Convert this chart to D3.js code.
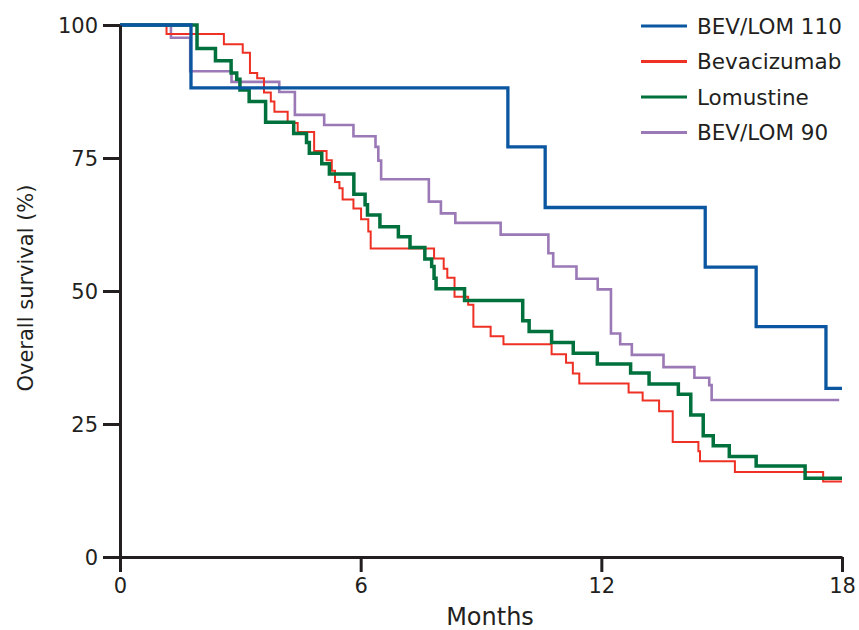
<!DOCTYPE html>
<html>
<head>
<meta charset="utf-8">
<script src="https://cdn.jsdelivr.net/npm/d3@7"></script>
<style>
  body { margin: 0; background: #fff; }
  svg text { font-family: "DejaVu Sans", sans-serif; fill: #231f20; }
</style>
</head>
<body>
<div id="chart"></div>
<script>
// krivky preziti - [mesic, procento] v okamziku kdy krivka spadne
const bevLom110 = [[0,100],[1.77,88.2],[9.67,77.1],[10.60,65.7],[14.59,54.5],[15.86,43.3],[17.60,31.7],[18,31.7]];

const bevacizumab = [[0,100],[1.16,98.3],[2.59,96.4],[3.06,94.8],[3.24,91.0],[3.42,90.0],[3.59,87.3],[3.76,85.6],
  [3.85,83.7],[4.18,81.6],[4.43,79.9],[4.84,76.3],[5.15,74.6],[5.28,72.6],[5.36,70.5],[5.47,69.3],[5.55,67.2],
  [5.82,65.5],[6.01,63.5],[6.19,61.2],[6.25,58.0],[7.83,56.1],[8.07,54.2],[8.16,52.5],[8.34,48.9],[8.68,47.4],
  [8.81,43.3],[9.24,41.5],[9.56,40.0],[10.76,38.1],[11.12,36.5],[11.29,34.5],[11.45,32.6],[12.68,30.9],
  [13.03,29.4],[13.44,27.4],[13.78,21.6],[14.42,19.9],[14.46,18.0],[15.33,16.0],[17.53,14.2],[18,14.2]];

const lomustine = [[0,100],[1.92,95.6],[2.38,93.3],[2.77,91.0],[2.91,89.8],[2.99,87.8],[3.22,85.6],[3.63,81.7],
  [4.33,79.6],[4.65,77.9],[4.72,75.9],[5.03,73.9],[5.22,72.0],[5.83,68.2],[6.11,66.2],[6.17,64.3],[6.48,62.1],
  [6.94,60.2],[7.23,58.2],[7.60,56.0],[7.77,54.6],[7.83,52.4],[7.88,50.4],[8.59,48.2],[10.04,44.4],[10.20,42.4],
  [10.76,40.3],[11.30,38.3],[11.90,36.3],[12.73,34.6],[13.19,32.5],[13.92,30.6],[14.23,26.7],[14.54,22.8],
  [14.79,20.9],[15.19,18.9],[15.86,17.1],[17.08,14.8],[18,14.8]];

const bevLom90 = [[0,100],[1.27,97.6],[1.75,91.3],[2.78,89.3],[3.97,87.4],[4.36,83.1],[5.09,81.2],[5.82,79.1],
  [6.37,77.1],[6.44,74.5],[6.51,71.0],[7.70,66.8],[8.00,64.6],[8.36,62.8],[9.49,60.6],[10.68,57.1],[10.80,54.6],
  [11.38,52.3],[11.91,50.3],[12.24,42.0],[12.47,40.0],[12.76,38.0],[13.55,35.7],[14.32,33.7],[14.69,32.3],
  [14.75,29.5],[17.93,29.5]];

const xTicks = [0, 6, 12, 18];
const yTicks = [0, 25, 50, 75, 100];

// poradi v legende
const series = [
  { name: "BEV/LOM 110", data: bevLom110, color: "#0a56a0", width: 3.3 },
  { name: "Bevacizumab", data: bevacizumab, color: "#ee3124", width: 2 },
  { name: "Lomustine", data: lomustine, color: "#00703c", width: 3.5 },
  { name: "BEV/LOM 90", data: bevLom90, color: "#9b78b6", width: 2.6 }
];
// poradi kresleni (modra nahore)
const drawOrder = [3, 1, 2, 0];

const W = 859, H = 630;
const margin = { top: 25, right: 17, bottom: 73, left: 120 };
const iw = W - margin.left - margin.right;
const ih = H - margin.top - margin.bottom;

const svg = d3.select("#chart").append("svg")
  .attr("width", W).attr("height", H);

const g = svg.append("g").attr("transform", `translate(${margin.left},${margin.top})`);

const x = d3.scaleLinear().domain([0, 18]).range([0, iw]);
const y = d3.scaleLinear().domain([0, 100]).range([ih, 0]);

const line = d3.line()
  .x(d => x(d[0]))
  .y(d => y(d[1]))
  .curve(d3.curveStepAfter);

drawOrder.forEach(i => {
  const s = series[i];
  g.append("path")
    .datum(s.data)
    .attr("fill", "none")
    .attr("stroke", s.color)
    .attr("stroke-width", s.width)
    .attr("d", line);
});

// osy
const xAxis = g.append("g")
  .attr("transform", `translate(0,${ih})`)
  .call(d3.axisBottom(x).tickValues(xTicks).tickSize(15).tickSizeOuter(0).tickPadding(6));

const yAxis = g.append("g")
  .call(d3.axisLeft(y).tickValues(yTicks).tickSize(17).tickSizeOuter(0).tickPadding(5));

[xAxis, yAxis].forEach(a => {
  a.select(".domain").attr("stroke", "#231f20").attr("stroke-width", 3);
  a.selectAll(".tick line").attr("stroke", "#231f20").attr("stroke-width", 3);
  a.selectAll(".tick text").attr("font-size", 21).attr("fill", "#231f20")
    .style("font-family", "DejaVu Sans, sans-serif");
});
yAxis.selectAll(".tick text").attr("dy", "0.35em");

// popisky os
svg.append("text")
  .attr("x", 490).attr("y", 625)
  .attr("text-anchor", "middle")
  .attr("font-size", 24)
  .text("Months");

svg.append("text")
  .attr("transform", `translate(33,${margin.top + y(50) - 3}) rotate(-90)`)
  .attr("text-anchor", "middle")
  .attr("font-size", 21)
  .text("Overall survival (%)");

// legenda
const legend = svg.append("g").attr("transform", "translate(641,26)");
series.forEach((s, i) => {
  const row = legend.append("g").attr("transform", `translate(0,${i * 35.5})`);
  row.append("line")
    .attr("x1", 0).attr("x2", 46)
    .attr("stroke", s.color).attr("stroke-width", 3);
  row.append("text")
    .attr("x", 56).attr("dy", "0.35em")
    .attr("font-size", 21.5)
    .text(s.name);
});
</script>
</body>
</html>
